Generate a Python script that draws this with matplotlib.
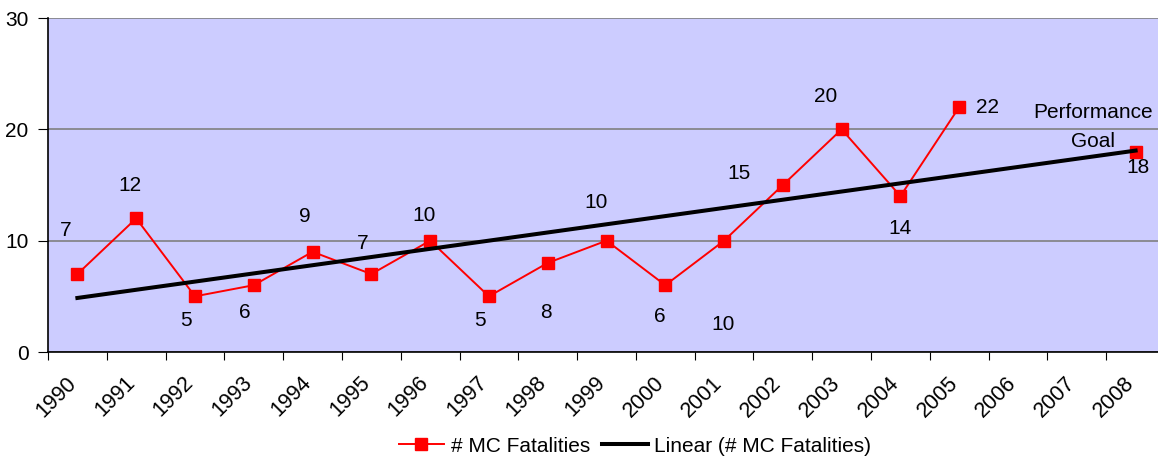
import matplotlib

matplotlib.use("Agg")
import matplotlib.pyplot as plt
import matplotlib.transforms as mtransforms
import numpy as np

plt.rcParams["font.family"] = ["Liberation Sans", "DejaVu Sans"]

years = list(range(1990, 2009))
fatal_years = [1990, 1991, 1992, 1993, 1994, 1995, 1996, 1997, 1998, 1999,
               2000, 2001, 2002, 2003, 2004, 2005]
fatalities = [7, 12, 5, 6, 9, 7, 10, 5, 8, 10, 6, 10, 15, 20, 14, 22]
goal_year = 2008
goal_value = 18

# label offsets in pixels (dx, dy) relative to each point, as placed in the original
label_offsets = [(-12, 44), (-6, 33), (-9, -24), (-9, -27), (-8, 35), (-9, 31),
                 (-6, 25), (-9, -24), (-2, -50), (-10, 38), (-5, -31), (-1, -84),
                 (-44, 12), (-16, 33), (0, -32), (28, 0)]

RED = "#ff0000"
BG = "#ccccff"

fig = plt.figure(figsize=(11.58, 4.61), dpi=100)
# plot area runs a little past the right edge of the picture, as in the original
ax = fig.add_axes([48 / 1158, 1 - 352 / 461, 1117 / 1158, 334 / 461])
ax.set_facecolor(BG)

xpos = {y: i for i, y in enumerate(years)}
fx = [xpos[y] for y in fatal_years]

# the trend line Excel fits to every value including the goal
all_x = np.array(fx + [xpos[goal_year]])
all_y = np.array(fatalities + [goal_value])
slope, icpt = np.polyfit(all_x, all_y, 1)
tx = np.array([all_x.min(), all_x.max()])

ax.plot(fx, fatalities, "-s", color=RED, lw=1.4, ms=8, mec=RED,
        label="# MC Fatalities", zorder=3)
ax.plot([xpos[goal_year]], [goal_value], "s", color=RED, ms=8, zorder=3)
ax.plot(tx, slope * tx + icpt, color="black", lw=2.9,
        label="Linear (# MC Fatalities)", zorder=4)

fs = 15
px = 72 / 100
for x, v, (dx, dy) in zip(fx, fatalities, label_offsets):
    ax.annotate(str(v), (x, v), xytext=(dx * px, dy * px), textcoords="offset points",
                ha="center", va="center", fontsize=fs)
ax.annotate(str(goal_value), (xpos[goal_year], goal_value), xytext=(2 * px, -16 * px),
            textcoords="offset points", ha="center", va="center", fontsize=fs)
ax.annotate("Performance", (xpos[goal_year], goal_value), xytext=(-43 * px, 39 * px),
            textcoords="offset points", ha="center", va="center", fontsize=fs)
ax.annotate("Goal", (xpos[goal_year], goal_value), xytext=(-43 * px, 10 * px),
            textcoords="offset points", ha="center", va="center", fontsize=fs)

ax.set_xlim(-0.5, len(years) - 0.5)
ax.set_ylim(0, 30)
ax.set_yticks([0, 10, 20, 30])
ax.yaxis.grid(True, color="#808080", lw=1.2)
ax.set_axisbelow(True)
ax.tick_params(axis="y", labelsize=fs, length=7, direction="out", pad=7)

ax.set_xticks(np.arange(len(years) + 1) - 0.5)
ax.set_xticklabels([])
ax.tick_params(axis="x", which="major", length=6, direction="out", color="black")
ax.set_xticks(np.arange(len(years)), minor=True)
ax.set_xticklabels([str(y) for y in years], minor=True, rotation=45, ha="right",
                   rotation_mode="anchor", fontsize=fs + 0.5)
ax.tick_params(axis="x", which="minor", length=0, pad=9)
shift = mtransforms.ScaledTranslation(-12 / 100, -8 / 100, fig.dpi_scale_trans)
for lbl in ax.get_xticklabels(minor=True):
    lbl.set_transform(lbl.get_transform() + shift)

for s in ["top", "right"]:
    ax.spines[s].set_visible(False)
for s in ["left", "bottom"]:
    ax.spines[s].set_color("black")
    ax.spines[s].set_linewidth(1.2)

fig.legend(loc="center", bbox_to_anchor=(635 / 1158, 1 - 446 / 461), ncol=2, frameon=False,
           fontsize=fs, handlelength=2.2, handletextpad=0.3, columnspacing=0.6)

fig.savefig("out.png", dpi=100)
